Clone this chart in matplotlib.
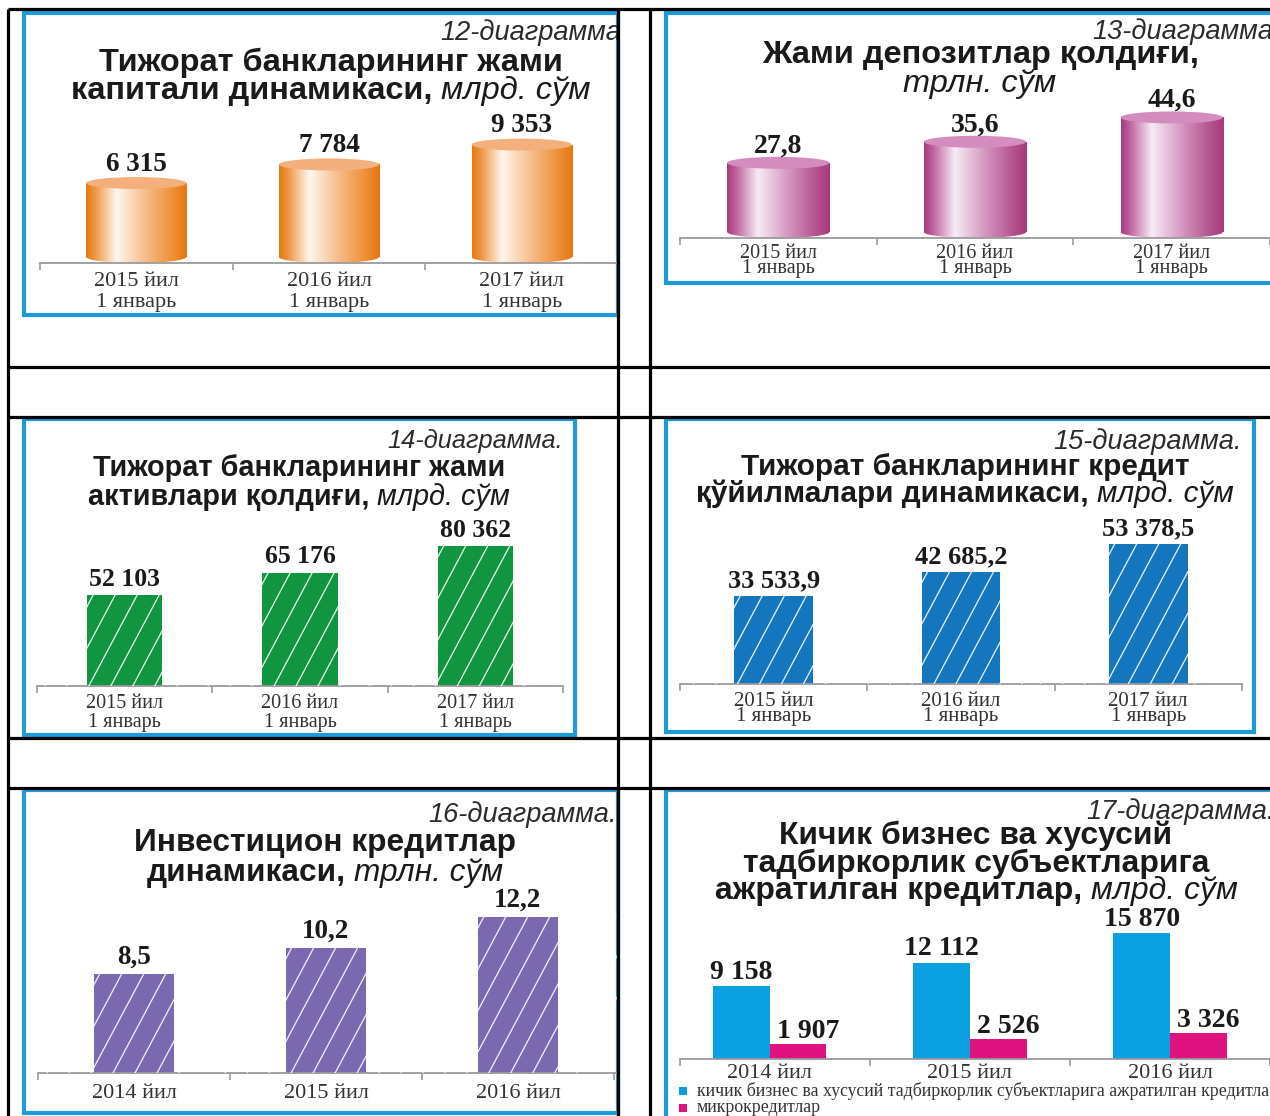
import matplotlib
matplotlib.use('Agg')
import matplotlib.pyplot as plt
import numpy as np
from matplotlib.patches import Rectangle, Ellipse
from matplotlib.lines import Line2D
from matplotlib.colors import LinearSegmentedColormap
from matplotlib.transforms import IdentityTransform

# ---------------- data ----------------
cats_jan_l1 = ['2015 йил', '2016 йил', '2017 йил']
cats_jan_l2 = ['1 январь', '1 январь', '1 январь']
cats_year = ['2014 йил', '2015 йил', '2016 йил']

capital = [6315, 7784, 9353]
capital_lbl = ['6 315', '7 784', '9 353']
deposits = [27.8, 35.6, 44.6]
deposits_lbl = ['27,8', '35,6', '44,6']
assets = [52103, 65176, 80362]
assets_lbl = ['52 103', '65 176', '80 362']
loans = [33533.9, 42685.2, 53378.5]
loans_lbl = ['33 533,9', '42 685,2', '53 378,5']
invest = [8.5, 10.2, 12.2]
invest_lbl = ['8,5', '10,2', '12,2']
sme = [9158, 12112, 15870]
sme_lbl = ['9 158', '12 112', '15 870']
micro = [1907, 2526, 3326]
micro_lbl = ['1 907', '2 526', '3 326']
legend_labels = ['кичик бизнес ва хусусий тадбиркорлик субъектларига ажратилган кредитлар',
                 'микрокредитлар']

B, N, I = 'bold', 'normal', 'italic'
title12 = [[('Тижорат банкларининг жами', B, N)],
           [('капитали динамикаси,', B, N), ('млрд. сўм', N, I)]]
title13 = [[('Жами депозитлар қолдиғи,', B, N)],
           [('трлн. сўм', N, I)]]
title14 = [[('Тижорат банкларининг жами', B, N)],
           [('активлари қолдиғи,', B, N), ('млрд. сўм', N, I)]]
title15 = [[('Тижорат банкларининг кредит', B, N)],
           [('қўйилмалари динамикаси,', B, N), ('млрд. сўм', N, I)]]
title16 = [[('Инвестицион кредитлар', B, N)],
           [('динамикаси,', B, N), ('трлн. сўм', N, I)]]
title17 = [[('Кичик бизнес ва хусусий', B, N)],
           [('тадбиркорлик субъектларига', B, N)],
           [('ажратилган кредитлар,', B, N), ('млрд. сўм', N, I)]]
diag_names = ['12-диаграмма', '13-диаграмма', '14-диаграмма.',
              '15-диаграмма.', '16-диаграмма.', '17-диаграмма.']

# ---------------- style ----------------
SANS = 'Liberation Sans'
SERIF = 'Liberation Serif'
TXT = '#1a1a1a'
CATC = '#333333'
AXC = '#9a9a9a'
FRAME = '#1f9ad9'
PX = 0.72  # points per pixel at dpi 100

W, H = 1270, 1116
fig = plt.figure(figsize=(W / 100, H / 100), dpi=100)
fig.patch.set_facecolor('white')
bg = fig.add_axes([0, 0, 1, 1], zorder=0)
bg.set_xlim(0, W); bg.set_ylim(H, 0); bg.axis('off')
top = fig.add_axes([0, 0, 1, 1], zorder=20)
top.set_xlim(0, W); top.set_ylim(H, 0); top.axis('off')
R = fig.canvas.get_renderer()


def text_width(t):
    return t.get_window_extent(R).width


def parts_width(parts, size):
    ts = [bg.text(0, 0, s, fontsize=size, family=SANS, fontweight=w, fontstyle=st)
          for s, w, st in parts]
    wsum = sum(text_width(t) for t in ts) + (len(ts) - 1) * 0.278 * size / PX
    for t in ts:
        t.remove()
    return wsum


def mixed_line(xc, y, parts, size, color=TXT):
    ts = [bg.text(0, y, s, fontsize=size, family=SANS, fontweight=w, fontstyle=st,
                  va='center', ha='left', color=color) for s, w, st in parts]
    gap = 0.278 * size / PX
    widths = [text_width(t) for t in ts]
    x = xc - (sum(widths) + gap * (len(ts) - 1)) / 2
    for t, w in zip(ts, widths):
        t.set_x(x)
        x += w + gap


def title_block(xc, ys, lines, target_w):
    size = 20 * target_w / parts_width(lines[0], 20)
    for y, parts in zip(ys, lines):
        mixed_line(xc, y, parts, size)


def fit_size(s, target, **kw):
    t = bg.text(0, 0, s, fontsize=20, **kw)
    w = text_width(t)
    t.remove()
    return 20 * target / w


def diag_label(s, xr, y, size):
    bg.text(xr, y, s, fontsize=size, family=SANS, fontstyle='italic', color='#2b2b2b',
            ha='right', va='center')


def panel(x0, x1, ybase, h, unit_px, upp, first=-0.5, ymin=0.0):
    ax = fig.add_axes([x0 / W, 1 - ybase / H, (x1 - x0) / W, h / H], zorder=5)
    ax.patch.set_alpha(0)
    for s in ('top', 'right', 'left'):
        ax.spines[s].set_visible(False)
    ax.spines['bottom'].set_color(AXC)
    ax.spines['bottom'].set_linewidth(1.3)
    ax.set_yticks([])
    lims = ((first, first + (x1 - x0) / unit_px), (ymin, ymin + h * upp))
    return ax, lims


def finalize(ax, lims, bounds):
    ax.set_xlim(*lims[0]); ax.set_ylim(*lims[1])
    ax.set_xticks(bounds)
    ax.tick_params(axis='x', which='major', length=5, width=1.2, color=AXC,
                   direction='out', labelbottom=False)


def value_labels(ax, xs, vals, labels, off, size, dx=0):
    for x, v, s in zip(xs, vals, labels):
        ax.annotate(s, (x, v), xytext=(dx, off), textcoords='offset pixels', ha='center',
                    va='center', fontsize=size, family=SERIF, fontweight='bold', color=TXT,
                    annotation_clip=False)


def cat_labels(ax, xs, rows, offs, size):
    for row, off in zip(rows, offs):
        for x, s in zip(xs, row):
            ax.annotate(s, (x, 0), xycoords=('data', 'axes fraction'), xytext=(0, -off),
                        textcoords='offset pixels', ha='center', va='center', fontsize=size,
                        family=SERIF, color=CATC, annotation_clip=False)


def cylinders(ax, vals, width, stops, topc, eh_px, upp):
    eh = eh_px * upp
    cmap = LinearSegmentedColormap.from_list('cyl', stops)
    grad = np.linspace(0, 1, 256).reshape(1, -1)
    for i, v in enumerate(vals):
        x0 = i - width / 2
        body = Rectangle((x0, eh / 2), width, v - eh / 2, transform=ax.transData)
        bot = Ellipse((i, eh / 2), width, eh, transform=ax.transData)
        for clip in (body, bot):
            im = ax.imshow(grad, extent=[x0, x0 + width, 0, v], aspect='auto', cmap=cmap,
                           interpolation='bilinear', zorder=2)
            im.set_clip_path(clip)
        ax.add_patch(Ellipse((i, v), width, eh, facecolor=topc, edgecolor='none', zorder=3))


def hatch_bars(ax, bars, spacing=22, angle=62, lw=0.9):
    k = 1 / np.tan(np.radians(angle))
    ab = ax.bbox
    for b in bars:
        bb = b.get_window_extent(R)
        x0, x1 = bb.x0, bb.x1
        y0, y1 = max(bb.y0, ab.y0), bb.y1
        hgt = y1 - y0
        for xs in np.arange(x0 - hgt * k + 6, x1 + spacing, spacing):
            ln = Line2D([xs, xs + hgt * k], [y0, y1], transform=IdentityTransform(),
                        color='white', lw=lw, zorder=3, alpha=0.9)
            ln.set_clip_path(b)
            ln.set_clip_box(ab)
            ax.add_artist(ln)


# ---------------- frames ----------------
frames = [(24, 13, 618, 315), (666, 13, 1280, 283), (24, 419, 575, 735),
          (666, 419, 1254, 732), (24, 790, 618, 1113), (666, 790, 1280, 1125)]
for x0, y0, x1, y1 in frames:
    bg.add_patch(Rectangle((x0, y0), x1 - x0, y1 - y0, facecolor='white',
                           edgecolor=FRAME, lw=3.0, zorder=1))

# ---------------- titles ----------------
dsize = fit_size('15-диаграмма.', 188, family=SANS, fontstyle='italic')
dsize14 = fit_size('14-диаграмма.', 175, family=SANS, fontstyle='italic')
diag_label(diag_names[0], 621, 33, dsize)
diag_label(diag_names[1], 1273, 32, dsize)
diag_label(diag_names[2], 563, 441, dsize14)
diag_label(diag_names[3], 1242, 442, dsize)
diag_label(diag_names[4], 617, 815, dsize)
diag_label(diag_names[5], 1275, 812, dsize)

title_block(331, [63, 91], title12, 462)
title_block(980, [55, 84], title13, 436)
title_block(299, [468, 497], title14, 412)
title_block(965, [467, 494], title15, 446)
title_block(325, [843, 873], title16, 381)
title_block(976, [836, 864, 891], title17, 392)

idx3 = np.arange(3)

# ---------------- panel 12 : orange cylinders ----------------
ax, lims = panel(40, 618, 263, 160, 195, 79)
orange = [(0, '#e67812'), (0.1, '#f09a4c'), (0.3, '#fff6ee'), (0.6, '#f5bb86'),
          (0.88, '#ee8c30'), (1, '#e57612')]
cylinders(ax, capital, 0.52, orange, '#f4b07c', 12, 79)
finalize(ax, lims, [-0.5, 0.5, 1.5, 2.5])
value_labels(ax, idx3, capital, capital_lbl, 19, 19.5)
cat_labels(ax, idx3, [cats_jan_l1, cats_jan_l2], [19, 39], 16)

# ---------------- panel 13 : magenta cylinders ----------------
ax, lims = panel(680, 1270, 238, 150, 199, 0.37)
magenta = [(0, '#a63a7c'), (0.1, '#c46aa4'), (0.3, '#f7ebf4'), (0.6, '#d495c0'),
           (0.88, '#b2508d'), (1, '#a63a7c')]
cylinders(ax, deposits, 0.52, magenta, '#d48bbd', 12, 0.37)
finalize(ax, lims, [-0.5, 0.5, 1.5, 2.5])
value_labels(ax, idx3, deposits, deposits_lbl, 17, 20)
cat_labels(ax, idx3, [cats_jan_l1, cats_jan_l2], [15, 30], 14.5)

# ---------------- panel 14 : green bars ----------------
ax, lims = panel(37, 563, 686, 170, 175.3, 575)
finalize(ax, lims, [-0.5, 0.5, 1.5, 2.5])
bars = ax.bar(idx3, assets, 0.43, color='#119540', zorder=2)
hatch_bars(ax, bars)
value_labels(ax, idx3, assets, assets_lbl, 16, 18.5)
cat_labels(ax, idx3, [cats_jan_l1, cats_jan_l2], [17, 36], 14.5)

# ---------------- panel 15 : blue bars ----------------
ax, lims = panel(680, 1242, 684, 170, 187.3, 380)
finalize(ax, lims, [-0.5, 0.5, 1.5, 2.5])
bars = ax.bar(idx3, loans, 0.42, color='#1576c0', zorder=2)
hatch_bars(ax, bars)
value_labels(ax, idx3, loans, loans_lbl, 15, 19)
cat_labels(ax, idx3, [cats_jan_l1, cats_jan_l2], [17, 33], 15)

# ---------------- panel 16 : purple bars ----------------
ax, lims = panel(38, 618, 1073, 180, 192, 1 / 15.4, ymin=2.07)
finalize(ax, lims, [-0.5, 0.5, 1.5, 2.5])
bars = ax.bar(idx3, invest, 0.42, color='#7a69ae', zorder=2)
hatch_bars(ax, bars)
value_labels(ax, idx3, invest, invest_lbl, 17, 19.5)
cat_labels(ax, idx3, [cats_year], [20], 16)

# ---------------- panel 17 : grouped bars ----------------
ax, lims = panel(680, 1270, 1059, 150, 205, 126, first=-0.449)
finalize(ax, lims, [-0.449, 0.5, 1.5, 2.5])
bw = 0.283
ax.bar(idx3 - bw / 2, sme, bw, color='#0a9fe0', zorder=2)
ax.bar(idx3 + bw / 2, micro, bw, color='#e0127f', zorder=2)
value_labels(ax, idx3 - bw / 2, sme, sme_lbl, 14, 20)
value_labels(ax, idx3 + bw / 2, micro, micro_lbl, 12, 20, dx=10)
cat_labels(ax, idx3, [cats_year], [14], 16)

lsize = fit_size(legend_labels[0], 580, family=SERIF)
for k, (lab, col) in enumerate(zip(legend_labels, ['#0a9fe0', '#e0127f'])):
    yy = 1091 + 17 * k
    bg.add_patch(Rectangle((679, yy - 4), 8, 8, facecolor=col, edgecolor='none', zorder=2))
    bg.text(697, yy, lab, fontsize=lsize, family=SERIF, color=CATC, ha='left', va='center')

# ---------------- black table grid ----------------
GL = 2.3
for y in (9, 367, 417, 738, 788):
    top.plot([8, W], [y, y], color='black', lw=GL, solid_capstyle='butt')
for x in (8, 618, 650):
    top.plot([x, x], [9, H], color='black', lw=GL, solid_capstyle='butt')

fig.savefig('out.png', dpi=100, facecolor='white')
